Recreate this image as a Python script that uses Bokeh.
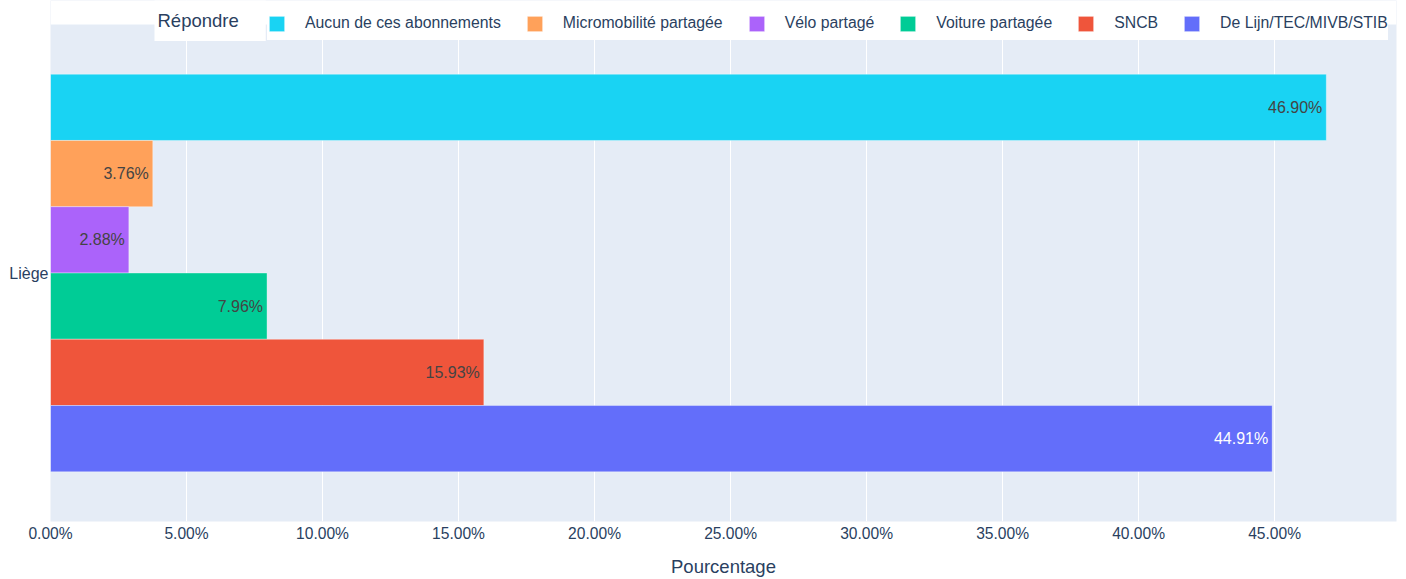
from bokeh.plotting import figure
from bokeh.models import (Range1d, FixedTicker, Legend, LegendItem, ColumnDataSource, LabelSet,
                          Label, BoxAnnotation)
from bokeh.core.properties import value
from bokeh.embed import file_html
from bokeh.resources import INLINE

# ---- data (top to bottom as drawn) ----
categories = ["Aucun de ces abonnements", "Micromobilité partagée", "Vélo partagé",
              "Voiture partagée", "SNCB", "De Lijn/TEC/MIVB/STIB"]
values = [46.90, 3.76, 2.88, 7.96, 15.93, 44.91]
colors = ["#19D3F3", "#FFA15A", "#AB63FA", "#00CC96", "#EF553B", "#636EFA"]
text_colors = ["#444444", "#444444", "#444444", "#444444", "#444444", "#FFFFFF"]
group_label = "Liège"
legend_title = "Répondre"
x_ticks = [0, 5, 10, 15, 20, 25, 30, 35, 40, 45]
x_tick_labels = ["0.00%", "5.00%", "10.00%", "15.00%", "20.00%", "25.00%",
                 "30.00%", "35.00%", "40.00%", "45.00%"]

FONT = "Liberation Sans"
INK = "#2a3f5f"

n = len(values)
group_w = 0.8
bar_h = group_w / n
ys = [group_w / 2 - (i + 0.5) * bar_h for i in range(n)]
labels = ["%.2f%%" % v for v in values]

src = ColumnDataSource(dict(y=ys, v=values, c=colors, tc=text_colors, lab=labels, name=categories))

H, W = 579, 1406
border_bottom = 58
top_gap = 24                      # white band above the category area (px)
cat_px = H - border_bottom - top_gap
y_top = 0.5 + top_gap / cat_px

p = figure(width=W, height=H, output_backend="svg", toolbar_location=None,
           x_range=Range1d(0, 49.48), y_range=Range1d(-0.5, y_top),
           min_border_left=50, min_border_right=10, min_border_top=0, min_border_bottom=border_bottom)
p.background_fill_color = "#E5ECF6"
p.border_fill_color = "white"
p.outline_line_color = None

renderers = []
for i in range(n):
    r = p.hbar(y=ys[i], left=0, right=values[i], height=bar_h, fill_color=colors[i],
               line_color="white", line_width=0.6, line_alpha=0.6)
    renderers.append(r)

lbl = LabelSet(x="v", y="y", text="lab", source=src, text_align="right", text_baseline="middle",
               x_offset=-4, text_font=value(FONT), text_font_size="16px", text_color="tc")
p.add_layout(lbl)

# white band above the plotting area
p.add_layout(BoxAnnotation(bottom=0.5, fill_color="white", fill_alpha=1, line_color=None))

# axes
p.xaxis.ticker = FixedTicker(ticks=x_ticks)
p.xaxis.major_label_overrides = {t: s for t, s in zip(x_ticks, x_tick_labels)}
p.xaxis.axis_label = "Pourcentage"
p.xaxis.axis_label_text_font = FONT
p.xaxis.axis_label_text_font_style = "normal"
p.xaxis.axis_label_text_font_size = "18.5px"
p.xaxis.axis_label_text_color = INK
p.xaxis.axis_label_standoff = 11
p.xaxis.major_label_text_font = FONT
p.xaxis.major_label_text_font_size = "15.6px"
p.xaxis.major_label_text_color = INK
p.xaxis.major_label_standoff = -3
p.xaxis.axis_line_color = None
p.xaxis.major_tick_line_color = None
p.xaxis.minor_tick_line_color = None

p.yaxis.ticker = FixedTicker(ticks=[0])
p.yaxis.major_label_overrides = {0: group_label}
p.yaxis.major_label_text_font = FONT
p.yaxis.major_label_text_font_size = "16px"
p.yaxis.major_label_text_color = INK
p.yaxis.major_label_standoff = -4
p.yaxis.axis_line_color = None
p.yaxis.major_tick_line_color = None
p.yaxis.minor_tick_line_color = None

p.xgrid.grid_line_color = "white"
p.xgrid.grid_line_width = 1
p.ygrid.grid_line_color = None

legend = Legend(items=[LegendItem(label=categories[i], renderers=[renderers[i]]) for i in range(n)],
                orientation="horizontal", location=(217, cat_px - 16))
legend.label_text_font = FONT
legend.label_text_font_size = "15.8px"
legend.label_text_color = INK
legend.glyph_width = 19
legend.glyph_height = 19
legend.label_height = 34
legend.label_standoff = 19
legend.spacing = 24
legend.padding = 3
legend.margin = 0
legend.border_line_color = None
legend.background_fill_color = "white"
legend.background_fill_alpha = 1
p.add_layout(legend, "center")

title_lbl = Label(x=0, y=0.5, x_offset=104, y_offset=4, text=legend_title,
                  text_align="left", text_baseline="middle",
                  text_font=FONT, text_font_size="18.5px", text_color=INK,
                  background_fill_color="white", background_fill_alpha=1,
                  padding=dict(left=3, right=27, top=10, bottom=10))
p.add_layout(title_lbl)

open("out.html", "w").write(file_html(p, INLINE))
